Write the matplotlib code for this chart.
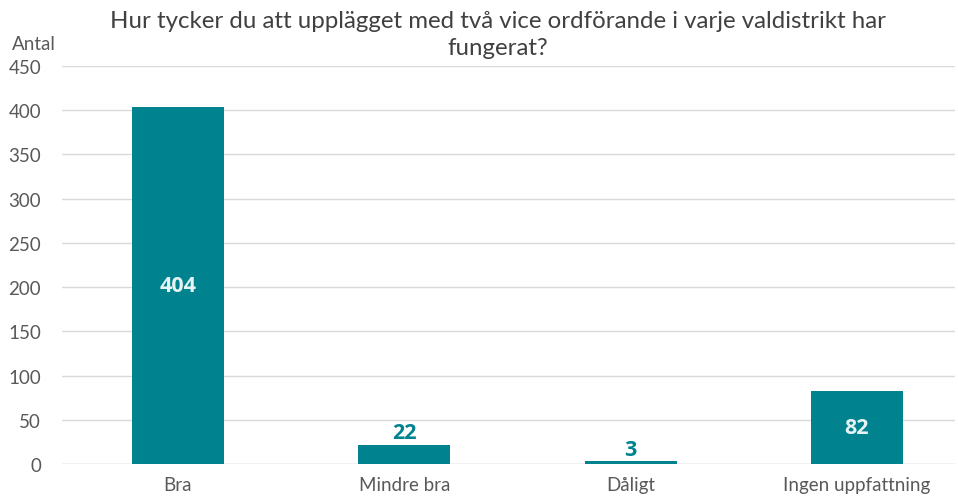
import matplotlib.pyplot as plt

plt.rcParams['font.family'] = ['Lato', 'DejaVu Sans']

categories = ["Bra", "Mindre bra", "Dåligt", "Ingen uppfattning"]
values = [404, 22, 3, 82]
inside_label = [True, False, False, True]

teal = "#00838F"
grey = "#595959"

fig = plt.figure(figsize=(9.58, 5.02), dpi=100)
ax = fig.add_axes([62 / 958, 37 / 502, 893 / 958, 398 / 502])

x = range(len(categories))
bars = ax.bar(x, values, width=0.407, color=teal, zorder=2)

for bar, v, inside in zip(bars, values, inside_label):
    cx = bar.get_x() + bar.get_width() / 2
    if inside:
        ax.text(cx, v / 2, str(v), ha="center", va="center", color="#e6f2f3",
                fontsize=15.5, fontweight="bold", family="Open Sans", zorder=3)
    else:
        ax.text(cx, v + 2, str(v), ha="center", va="bottom", color=teal,
                fontsize=15.5, fontweight="bold", family="Open Sans", zorder=3)

ax.set_xlim(-0.5125, 3.433)
ax.set_ylim(0, 450)
ax.set_yticks(range(0, 451, 50))
ax.set_xticks(list(x))
ax.set_xticklabels(categories)
ax.tick_params(axis="both", length=0, labelsize=13.5, colors=grey)
ax.tick_params(axis="x", pad=9)
ax.tick_params(axis="y", pad=15)
ax.grid(axis="y", color="#d9d9d9", linewidth=1, zorder=0)
for s in ax.spines.values():
    s.set_visible(False)
ax.axhline(0, color="#d9d9d9", linewidth=1, zorder=1)

fig.text(34 / 958, 1 - 45 / 502, "Antal", ha="center", va="center",
         fontsize=13.5, color=grey)
fig.text(498 / 958, 1 - 35 / 502,
         "Hur tycker du att upplägget med två vice ordförande i varje valdistrikt har\nfungerat?",
         ha="center", va="center", fontsize=17.3, color="#404040", linespacing=1.3)

fig.savefig("out.png", dpi=100)
